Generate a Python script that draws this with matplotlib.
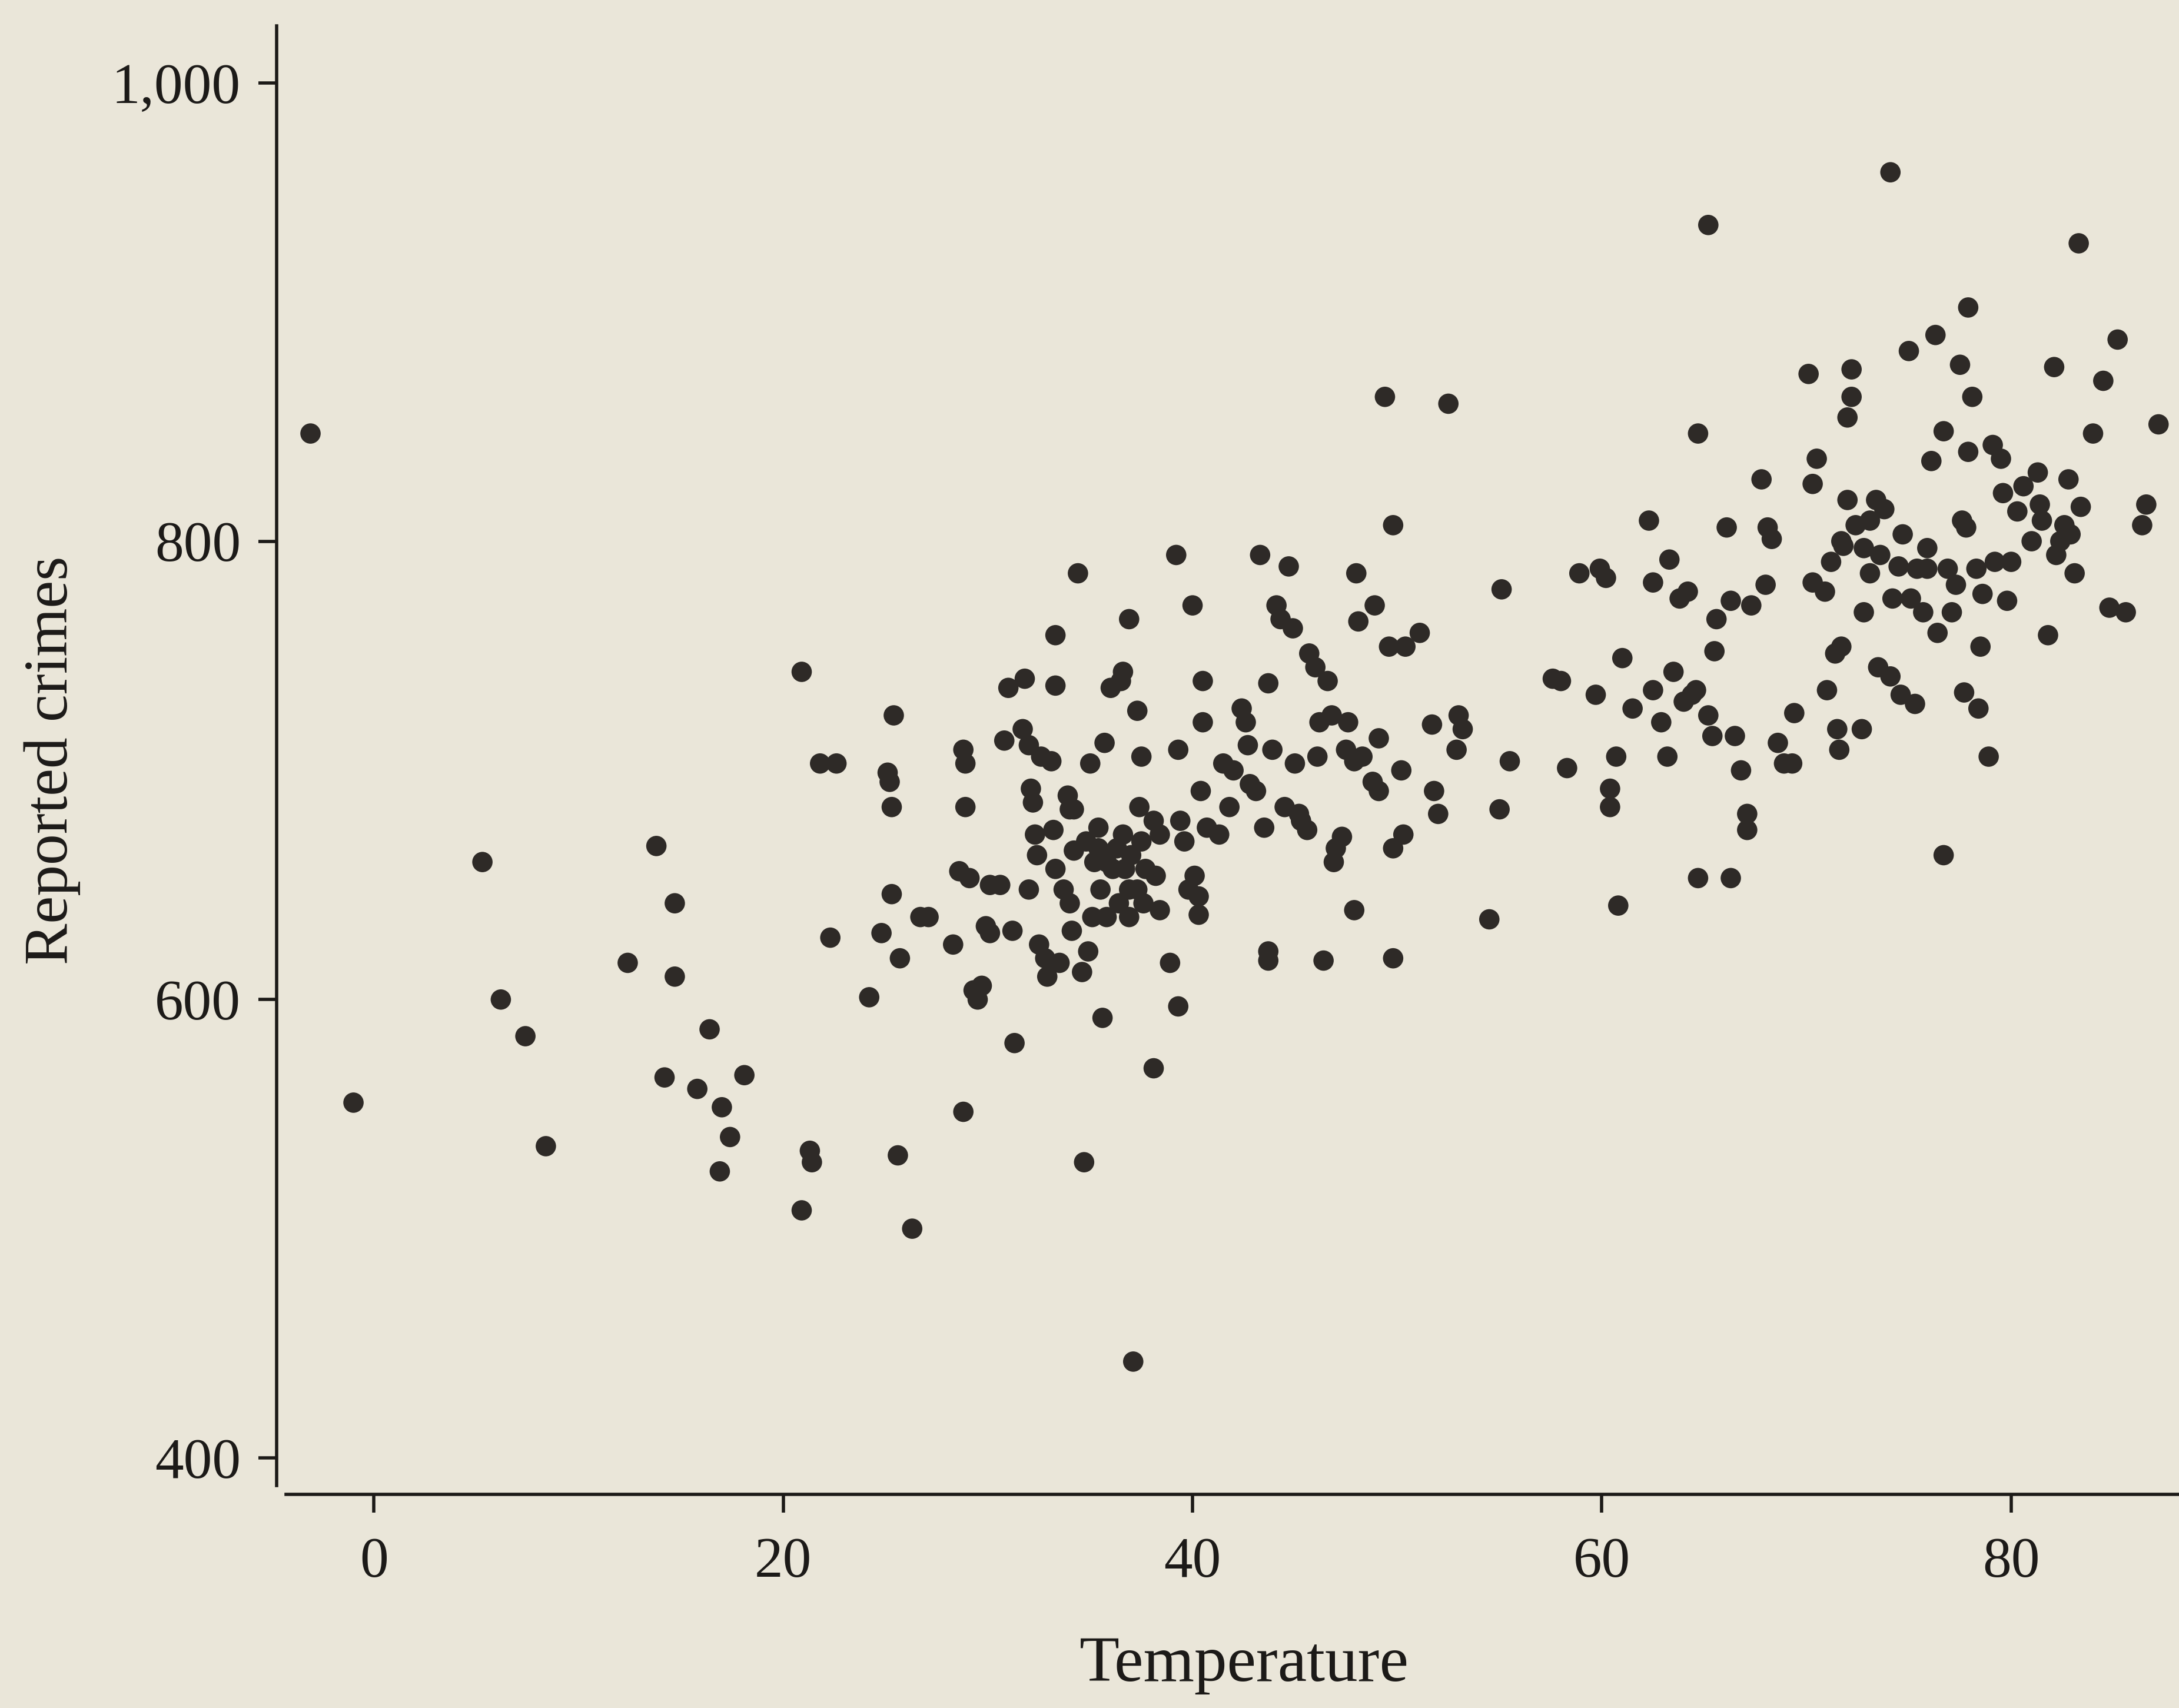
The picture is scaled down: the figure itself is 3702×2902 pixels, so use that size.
import matplotlib
matplotlib.use("Agg")
import matplotlib.pyplot as plt

# values (temperature, reported crimes)
temperature = [
    -3.1, -1.0, 5.3, 6.2, 7.4, 8.4, 12.4, 13.8, 14.2, 14.7, 14.7, 15.8, 16.4, 17.0, 17.4, 16.9, 18.1,
    20.9, 20.9, 21.3, 21.4, 21.8, 22.6, 22.3, 24.2, 24.8, 25.1, 25.2, 25.3, 25.3, 25.4, 25.6, 25.7,
    26.3, 26.7, 27.1, 28.3, 28.8, 28.6, 28.9, 28.8, 28.9, 29.1, 29.3, 29.5, 29.7, 29.9, 30.1, 30.1,
    30.6, 31.0, 30.8, 31.2, 31.3, 31.8, 31.7, 32.0, 32.1, 32.2, 32.3, 32.4, 32.5, 32.6, 32.8, 32.9,
    33.1, 33.3, 33.2, 33.3, 33.5, 33.9, 34.0, 34.1, 34.2, 34.2, 34.4, 34.6, 34.7, 34.8, 34.9, 35.0,
    35.1, 35.2, 35.4, 35.5, 35.6, 35.7, 35.8, 35.8, 36.0, 36.1, 36.3, 36.5, 36.6, 36.6, 36.7, 36.9,
    36.9, 36.9, 37.0, 37.1, 37.3, 37.4, 37.5, 37.5, 37.6, 37.7, 38.1, 38.2, 38.4, 38.4, 38.9, 39.2,
    39.3, 39.3, 39.4, 39.6, 39.8, 40.0, 40.1, 40.3, 40.3, 40.5, 40.5, 40.4, 40.7, 41.3, 41.5, 41.8,
    42.0, 42.4, 42.6, 42.7, 42.8, 43.1, 43.3, 43.5, 43.7, 43.7, 43.7, 43.9, 44.1, 44.3, 44.5, 44.7,
    44.9, 45.0, 45.2, 45.3, 45.6, 45.7, 46.0, 46.1, 46.2, 46.4, 46.6, 46.8, 46.9, 47.0, 47.3, 47.5,
    47.6, 47.9, 47.9, 48.0, 48.3, 48.1, 48.8, 48.9, 49.1, 49.1, 49.4, 49.6, 49.8, 49.8, 49.8, 50.2,
    50.3, 50.4, 51.1, 51.7, 51.8, 52.0, 52.5, 53.0, 52.9, 53.2, 54.5, 55.0, 55.1, 55.5, 57.6, 58.0,
    58.3, 58.9, 59.7, 59.9, 60.2, 60.4, 60.4, 60.7, 60.8, 61.0, 61.5, 62.3, 62.5, 62.5, 62.9, 63.2,
    63.3, 63.5, 63.8, 64.0, 64.2, 64.4, 64.6, 64.7, 64.7, 65.2, 65.2, 65.4, 65.5, 65.6, 66.1, 66.3,
    66.5, 66.3, 66.8, 67.1, 67.1, 67.3, 67.8, 68.0, 68.1, 68.3, 68.6, 68.9, 69.3, 69.4, 70.1, 70.3,
    70.3, 70.5, 70.9, 71.0, 71.2, 71.4, 71.5, 71.6, 71.7, 71.8, 72.0, 72.2, 72.2, 72.0, 72.4, 72.7,
    72.8, 73.1, 73.1, 73.4, 73.5, 73.8, 74.1, 74.1, 74.2, 74.5, 74.6, 74.7, 75.0, 75.3, 75.4, 75.7,
    75.9, 76.1, 76.3, 76.7, 76.4, 76.7, 76.9, 77.1, 77.3, 77.5, 77.6, 77.7, 77.8, 77.9, 77.9, 78.1,
    78.3, 78.4, 78.5, 78.6, 78.9, 79.1, 79.2, 79.5, 79.6, 79.8, 80.0, 80.3, 80.6, 81.0, 81.3, 81.4,
    81.5, 81.8, 82.1, 82.2, 82.4, 82.6, 82.8, 82.9, 83.1, 83.3, 83.4, 84.0, 84.5, 84.8, 85.2, 85.6,
    86.4, 86.6, 87.2,
    33.3, 71.7, 72.8, 73.6, 75.1, 75.9, 33.7, 35.4, 36.4, 34.0, 32.0, 37.3, 38.1,
]
crimes = [
    847, 555, 660, 600, 584, 536, 616, 667, 566, 642, 610, 561, 587, 553, 540, 525, 567,
    743, 508, 534, 529, 703, 703, 627, 601, 629, 699, 695, 684, 646, 724, 532, 618,
    500, 636, 636, 624, 551, 656, 684, 709, 703, 653, 604, 600, 606, 632, 629, 650,
    650, 736, 713, 630, 581, 740, 718, 711, 692, 686, 672, 663, 624, 706, 618, 610,
    704, 759, 674, 657, 616, 689, 683, 630, 683, 665, 786, 612, 529, 669, 621, 703,
    636, 660, 666, 648, 592, 712, 660, 636, 736, 657, 666, 739, 743, 672, 657, 766,
    648, 636, 663, 442, 726, 684, 706, 669, 642, 657, 570, 654, 639, 672, 616, 794,
    709, 597, 678, 669, 648, 772, 654, 637, 645, 721, 739, 691, 675, 672, 703, 684,
    700, 727, 721, 711, 694, 691, 794, 675, 621, 617, 738, 709, 772, 766, 684, 789,
    762, 703, 681, 678, 674, 751, 745, 706, 721, 617, 739, 724, 660, 666, 671, 709,
    721, 639, 704, 786, 706, 765, 695, 772, 714, 691, 863, 754, 807, 666, 618, 700,
    672, 754, 760, 720, 691, 681, 860, 724, 709, 718, 635, 683, 779, 704, 740, 739,
    701, 786, 733, 788, 784, 684, 692, 706, 641, 749, 727, 809, 782, 735, 721, 706,
    792, 743, 775, 730, 778, 733, 735, 847, 653, 938, 724, 715, 752, 766, 806, 653,
    715, 774, 700, 681, 674, 772, 827, 781, 806, 801, 712, 703, 703, 725, 873, 782,
    825, 836, 778, 735, 791, 751, 718, 709, 754, 798, 854, 863, 875, 818, 807, 718,
    769, 786, 809, 818, 745, 814, 961, 741, 775, 789, 733, 803, 883, 729, 788, 769,
    788, 835, 890, 663, 760, 848, 788, 769, 781, 877, 809, 734, 806, 839, 902, 863,
    788, 727, 754, 777, 706, 842, 791, 836, 821, 774, 791, 813, 824, 800, 830, 816,
    809, 759, 876, 794, 800, 807, 827, 803, 786, 930, 815, 847, 870, 771, 888, 769,
    807, 816, 851,
    737, 800, 797, 794, 775, 797, 648, 675, 642, 642, 648, 648, 678,
]

y_ticks = [400, 600, 800, 1000]
y_tick_labels = ["400", "600", "800", "1,000"]
x_ticks = [0, 20, 40, 60, 80]
x_tick_labels = ["0", "20", "40", "60", "80"]

paper = "#eae6d9"
ink = "#1c1a18"

plt.rcParams["font.family"] = ["Liberation Serif", "DejaVu Serif"]

fig = plt.figure(figsize=(37.02, 29.02), dpi=100, facecolor=paper)
ax = fig.add_axes([0.127, 0.125, 0.873, 0.86])
ax.set_facecolor(paper)

ax.scatter(temperature, crimes, s=620, color="#2e2a27", edgecolors="none", zorder=3)

ax.set_xlim(-4.75, 88.2)
ax.set_ylim(384, 1025)

ax.set_xticks(x_ticks)
ax.set_xticklabels(x_tick_labels)
ax.set_yticks(y_ticks)
ax.set_yticklabels(y_tick_labels)

for side in ["top", "right"]:
    ax.spines[side].set_visible(False)
for side in ["left", "bottom"]:
    ax.spines[side].set_linewidth(4)
    ax.spines[side].set_color(ink)
ax.spines["left"].set_bounds(388, 1025)
ax.spines["bottom"].set_bounds(-4.3, 88.2)

ax.tick_params(axis="both", length=22, width=4, color=ink, labelcolor=ink, labelsize=70)
ax.tick_params(axis="y", pad=22)
ax.tick_params(axis="x", pad=30)

fig.text(0.024, 0.555, "Reported crimes", rotation=90, ha="center", va="center",
         fontsize=76, color=ink)
fig.text(0.571, 0.025, "Temperature", ha="center", va="center", fontsize=80, color=ink)

fig.savefig("out.png", dpi=100, facecolor=paper)
